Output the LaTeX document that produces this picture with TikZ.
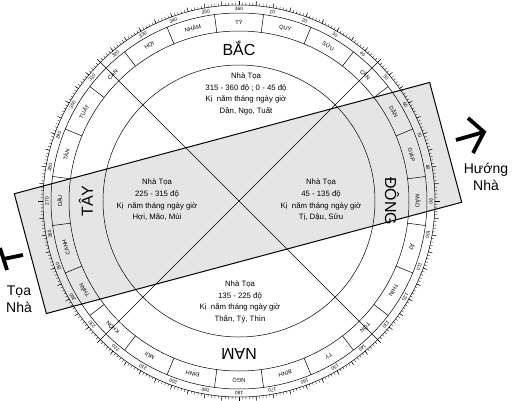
\documentclass[tikz,border=0pt]{standalone}
\usepackage{fontspec}
\setmainfont{Liberation Sans}
\begin{document}
\begin{tikzpicture}[x=1pt,y=1pt,
    ring/.style={line width=0.5pt},
    bandbox/.style={rotate around={15:(-1,3)}},
    quadtext/.style={align=center,font=\fontsize{7.8}{11.6}\selectfont},
    dirtext/.style={font=\fontsize{16}{16}\selectfont},
    mountain/.style={font=\fontsize{5.6}{5.6}\selectfont,inner sep=0pt},
    degree/.style={font=\fontsize{4.8}{4.8}\selectfont,inner sep=0pt},
    sidetext/.style={align=center,font=\fontsize{14}{17}\selectfont},
    signline/.style={line width=3.8pt}]
  \useasboundingbox (-239,-199) rectangle (273,201);
  % the band of the house
  \fill[gray!20,bandbox] (-216,-59) rectangle (214,65);
  % rings
  \draw[ring] (0,0) circle (196) circle (188) circle (170) circle (136);
  \foreach \d in {0,...,359}
    \draw[line width=0.3pt] (90-\d:196) -- (90-\d:198.5);
  \foreach \d in {0,5,...,355}
    \draw[line width=0.4pt] (90-\d:196) -- (90-\d:200.5);
  \foreach \d in {7.5,22.5,...,352.5}
    \draw[ring] (90-\d:170) -- (90-\d:188);
  \draw[ring] (45:196) -- (225:196);
  \draw[ring] (135:196) -- (315:196);
  % degrees
  \foreach \d in {10,20,...,360}
    \node[degree,rotate=-\d] (deg\d) at (90-\d:192) {\d};
  % 24 mountains
  \foreach \m [count=\i from 0, evaluate=\i as \a using 15*\i] in
      {TÝ,QUÝ,SỬU,CẤN,DẦN,GIÁP,MÃO,ẤT,THÌN,TỐN,TỴ,BÍNH,NGỌ,ĐINH,MÙI,KHÔN,THÂN,CANH,DẬU,TÂN,TUẤT,CÀN,HỢI,NHÂM}
    \node[mountain,rotate=-\a] (m\i) at (90-\a:179) {\m};
  % directions
  \node[dirtext] (bac) at (0,153) {BẮC};
  \node[dirtext,rotate=-90] (dong) at (153,0) {ĐÔNG};
  \node[dirtext,rotate=180] (nam) at (0,-153) {NAM};
  \node[dirtext,rotate=90] (tay) at (-153,0) {TÂY};
  % quarters
  \node[quadtext] (north) at (7,107) {Nhà Tọa\\315 - 360 độ ; 0 - 45 độ\\Kị\ \ năm tháng ngày giờ\\Dần, Ngọ, Tuất};
  \node[quadtext] (west) at (-82,1) {Nhà Tọa\\225 - 315 độ\\Kị\ \ năm tháng ngày giờ\\Hợi, Mão, Mùi};
  \node[quadtext] (east) at (82,1) {Nhà Tọa\\45 - 135 độ\\Kị\ \ năm tháng ngày giờ\\Tị, Dậu, Sửu};
  \node[quadtext] (south) at (1,-101) {Nhà Tọa\\135 - 225 độ\\Kị\ \ năm tháng ngày giờ\\Thân, Tý, Thìn};
  \draw[line width=1pt,bandbox] (-216,-59) rectangle (214,65);
  % facing and seat marks
  \coordinate (hbase) at (217,61);
  \coordinate (htip) at (245,69);
  \coordinate (hup) at (229,83);
  \coordinate (hdown) at (234,48);
  \draw[signline] (hbase) -- (htip);
  \draw[signline,line join=miter] (hup) -- (htip) -- (hdown);
  \node[sidetext] (huong) at (247,24) {Hướng\\Nhà};
  \coordinate (tup) at (-239,-47);
  \coordinate (tdown) at (-232,-69);
  \coordinate (tmid) at (-235.5,-58);
  \coordinate (tend) at (-216,-54);
  \draw[signline] (tup) -- (tdown);
  \draw[signline] (tmid) -- (tend);
  \node[sidetext] (toa) at (-220,-98) {Tọa\\Nhà};
\end{tikzpicture}
\end{document}
